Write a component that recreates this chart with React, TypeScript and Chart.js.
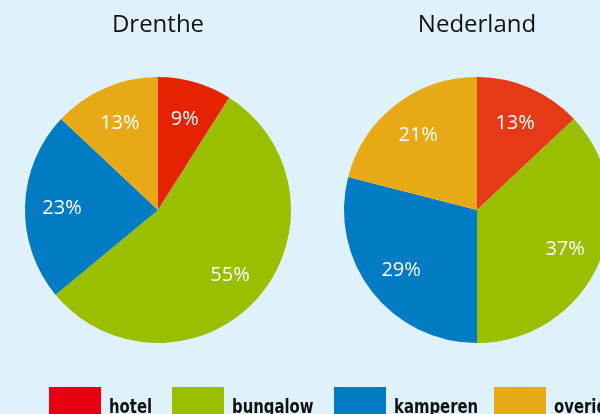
import React, { useEffect, useRef } from "react";
import { Chart, registerables } from "chart.js";

Chart.register(...registerables);

const categories = ["hotel", "bungalow", "kamperen", "overig"];
const regions = ["Drenthe", "Nederland"];
const drentheValues = [9, 55, 23, 13];
const nederlandValues = [13, 37, 29, 21];
const drentheColors = ["#e62300", "#99bf00", "#007bc4", "#e8a917"];
const nederlandColors = ["#e63a17", "#99bf00", "#007bc4", "#e8a917"];
const legendColors = ["#e60012", "#99bf00", "#007bc4", "#e8a917"];

// legend layout (pixel positions of each legend box)
const legendBoxLeft = [49, 172, 334, 494];

const BG = "#dff1fa";
const FONT = "'Open Sans', 'Noto Sans', sans-serif";

const sliceLabels = {
  id: "sliceLabels",
  afterDatasetsDraw(chart: any) {
    const ctx = chart.ctx;
    const meta = chart.getDatasetMeta(0);
    const data = chart.data.datasets[0].data as number[];
    const size = 20;
    ctx.save();
    ctx.fillStyle = "#ffffff";
    ctx.font = `${size}px ${FONT}`;
    ctx.textAlign = "center";
    ctx.textBaseline = "alphabetic";
    meta.data.forEach((arc: any, i: number) => {
      const { x, y, startAngle, endAngle, outerRadius } = arc.getProps(
        ["x", "y", "startAngle", "endAngle", "outerRadius"],
        true
      );
      const mid = (startAngle + endAngle) / 2;
      const r = outerRadius * 0.722;
      ctx.fillText(
        `${data[i]}%`,
        x + Math.cos(mid) * r,
        y + Math.sin(mid) * r + size * 0.36
      );
    });
    ctx.restore();
  },
};

function makeConfig(title: string, values: number[], colors: string[]): any {
  return {
    type: "pie",
    data: {
      labels: categories,
      datasets: [
        {
          data: values,
          backgroundColor: colors,
          borderWidth: 0,
        },
      ],
    },
    options: {
      responsive: false,
      devicePixelRatio: 1,
      animation: false,
      layout: { padding: { left: 25, right: 25, top: 0, bottom: 71 } },
      plugins: {
        legend: { display: false },
        tooltip: { enabled: false },
        title: {
          display: true,
          text: title,
          color: "#111111",
          font: { family: FONT, size: 24, weight: "normal", lineHeight: 1.2 },
          padding: { top: 11, bottom: 37.2 },
        },
      },
    },
    plugins: [sliceLabels],
  };
}

export default function App() {
  const ref1 = useRef<HTMLCanvasElement>(null);
  const ref2 = useRef<HTMLCanvasElement>(null);

  useEffect(() => {
    const c1 = new Chart(ref1.current!, makeConfig(regions[0], drentheValues, drentheColors));
    const c2 = new Chart(ref2.current!, makeConfig(regions[1], nederlandValues, nederlandColors));
    return () => {
      c1.destroy();
      c2.destroy();
    };
  }, []);

  const canvasStyle = (left: number): React.CSSProperties => ({
    position: "absolute",
    left,
    top: 0,
    width: 316,
    height: 414,
  });

  return (
    <div
      style={{
        position: "fixed",
        left: 0,
        top: 0,
        width: 600,
        height: 414,
        overflow: "hidden",
        background: BG,
      }}
    >
      <canvas ref={ref1} width={316} height={414} style={canvasStyle(0)} />
      <canvas ref={ref2} width={316} height={414} style={canvasStyle(319)} />
      {categories.map((c, i) => (
        <div
          key={c}
          style={{ position: "absolute", left: legendBoxLeft[i], top: 387, whiteSpace: "nowrap" }}
        >
          <div style={{ position: "absolute", left: 0, top: 0, width: 52, height: 30, background: legendColors[i] }} />
          <span
            style={{
              position: "absolute",
              left: 60,
              top: 8,
              display: "inline-block",
              transform: "scaleX(0.87)",
              transformOrigin: "0 0",
              fontFamily: "'DejaVu Sans Condensed', 'DejaVu Sans', sans-serif",
              fontWeight: "bold",
              fontSize: 19,
              lineHeight: "22px",
              color: "#111111",
            }}
          >
            {c}
          </span>
        </div>
      ))}
    </div>
  );
}
